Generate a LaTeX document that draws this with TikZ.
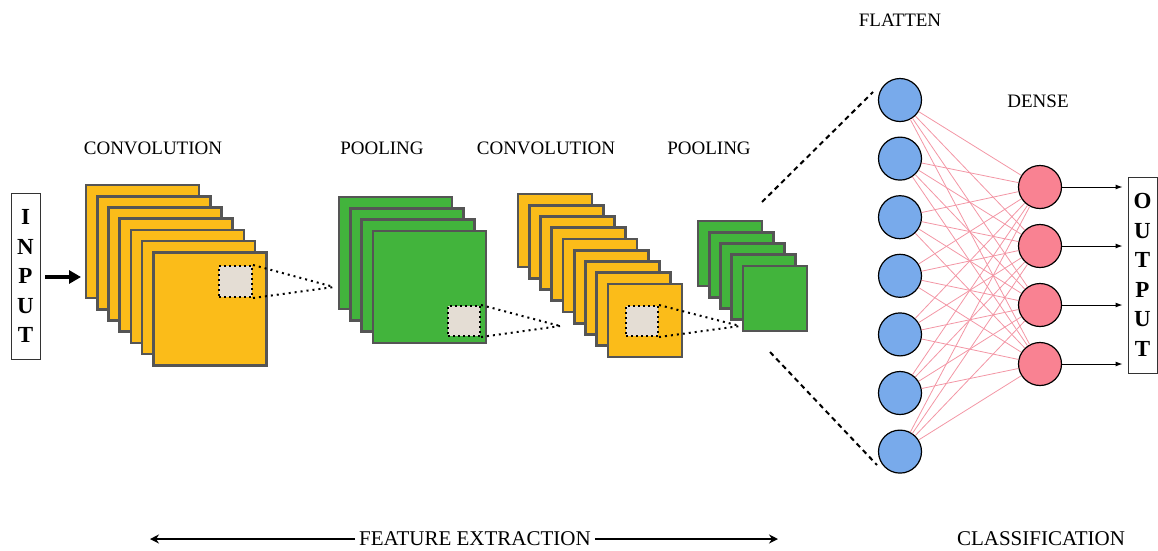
\documentclass[tikz,border=0pt]{standalone}
\usepackage{fontspec}
\setmainfont{Liberation Serif}
\usetikzlibrary{arrows.meta}
\definecolor{convorange}{RGB}{251,188,25}
\definecolor{poolgreen}{RGB}{66,180,60}
\definecolor{sheetedge}{RGB}{85,85,85}
\definecolor{patchgray}{RGB}{228,221,212}
\definecolor{flatblue}{RGB}{120,170,235}
\definecolor{densepink}{RGB}{249,130,146}
\definecolor{connpink}{RGB}{243,150,165}
\newcommand\sheetstack[7]{%
  \foreach \i in {1,...,#5}{%
    \draw[sheet, fill=#7] ({#1+(\i-1)*#6},{#2+(\i-1)*#6}) rectangle ++(#3,#4);
  }%
}
\begin{document}
\begin{tikzpicture}[x=1pt,y=-1pt,
  sheet/.style={draw=sheetedge, line width=2.6pt},
  patch/.style={draw=black, fill=patchgray, line width=2pt, dash pattern=on 2pt off 3pt, inner sep=0pt},
  dotline/.style={black, line width=2pt, dash pattern=on 2pt off 4pt},
  dashline/.style={black, line width=2pt, dash pattern=on 5pt off 4pt},
  label/.style={font=\fontsize{19}{22}\selectfont, inner sep=0pt},
  biglabel/.style={font=\fontsize{21}{24}\selectfont, inner sep=0pt},
  letterbox/.style={draw=black!80, line width=0.9pt, inner sep=0pt, align=center, font=\bfseries\fontsize{23}{29.5}\selectfont},
  flat/.style={circle, draw=black, line width=1.2pt, fill=flatblue, minimum size=43pt, inner sep=0pt},
  dense/.style={circle, draw=black, line width=1.2pt, fill=densepink, minimum size=43pt, inner sep=0pt},
  conn/.style={connpink, line width=0.8pt},
  outarrow/.style={black, line width=1pt, -{Latex[length=7pt,width=5pt]}}
]
\useasboundingbox (0,0) rectangle (1158,550);

% input
\node[letterbox, minimum width=29pt, minimum height=166pt] (in) at (25.5,276) {I\\N\\P\\U\\T};
\coordinate (ia) at (45,277);
\coordinate (ib) at (81,277);
\draw[line width=3.6pt, -{Triangle[length=12pt,width=13pt]}] (ia) -- (ib);

% stacks
\sheetstack{86}{185}{113}{113}{7}{11.2}{convorange}
\sheetstack{339}{197}{113}{112}{4}{11.3}{poolgreen}
\sheetstack{518}{194}{74}{73}{9}{11.25}{convorange}
\sheetstack{698}{221}{64}{65}{5}{11.25}{poolgreen}

% patches
\node[patch, minimum width=33pt, minimum height=31pt] (p1) at (235.5,281.5) {};
\node[patch, minimum width=32pt, minimum height=30pt] (p2) at (464,321) {};
\node[patch, minimum width=32pt, minimum height=30pt] (p3) at (642,321) {};
\coordinate (c1) at (334,287);
\coordinate (c2) at (560,326);
\coordinate (c3) at (740,326);
\draw[dotline] (p1.north east) -- (c1);
\draw[dotline] (p1.south east) -- (c1);
\draw[dotline] (p2.north east) -- (c2);
\draw[dotline] (p2.south east) -- (c2);
\draw[dotline] (p3.north east) -- (c3);
\draw[dotline] (p3.south east) -- (c3);

% labels
\node[label] (l1) at (153,148) {CONVOLUTION};
\node[label] (l2) at (382,148) {POOLING};
\node[label] (l3) at (546,148) {CONVOLUTION};
\node[label] (l4) at (709,148) {POOLING};
\node[label] (l5) at (900,20) {FLATTEN};
\node[label] (l6) at (1038,101) {DENSE};

% flatten neurons
\foreach \i/\y in {1/100,2/158.6,3/217.2,4/275.8,5/334.4,6/393,7/451.6}{
  \node[flat] (f\i) at (900,\y) {};
}
% dense neurons
\foreach \j/\y in {1/187,2/246,3/305,4/364}{
  \node[dense] (d\j) at (1040,\y) {};
}
\foreach \i in {1,...,7}{
  \foreach \j in {1,...,4}{
    \draw[conn] (f\i) -- (d\j);
  }
}

% dashed lines
\coordinate (s1) at (762,202);
\coordinate (e1) at (873,92);
\coordinate (s2) at (770,352);
\coordinate (e2) at (877,465);
\draw[dashline] (s1) -- (e1);
\draw[dashline] (s2) -- (e2);

% output
\node[letterbox, minimum width=29pt, minimum height=196pt] (out) at (1142.5,275) {O\\U\\T\\P\\U\\T};
\foreach \j in {1,...,4}{
  \draw[outarrow] (d\j.east) -- ([xshift=-5pt]d\j.east -| out.west);
}

% bottom
\node[biglabel, inner xsep=4pt] (fe) at (475,539) {FEATURE EXTRACTION};
\coordinate (fl) at (150,539);
\coordinate (fr) at (778,539);
\draw[line width=2pt, -{Stealth[length=9pt,width=9pt]}] (fe.west |- fl) -- (fl);
\draw[line width=2pt, -{Stealth[length=9pt,width=9pt]}] (fe.east |- fr) -- (fr);
\node[biglabel] (cl) at (1041,539) {CLASSIFICATION};
\end{tikzpicture}
\end{document}
